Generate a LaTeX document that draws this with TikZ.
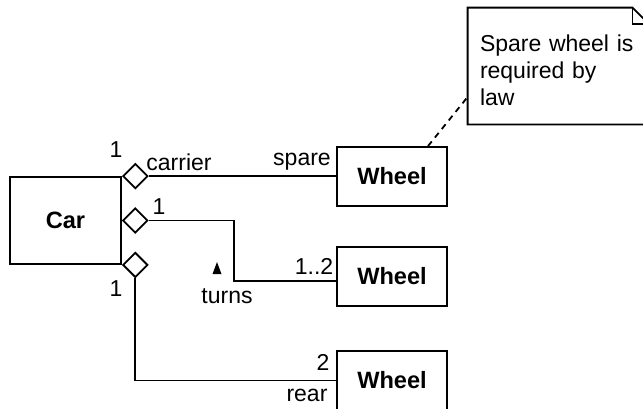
\documentclass[tikz,border=0pt]{standalone}
\usepackage{fontspec}
\setmainfont{Liberation Sans}
\usetikzlibrary{positioning,shapes.geometric,calc}

\tikzset{
  cls/.style={draw, line width=0.9pt, minimum width=55pt, minimum height=29.5pt, inner sep=0pt, font=\fontsize{11.8}{13.5}\selectfont\bfseries},
  agg/.style={draw, diamond, fill=white, line width=0.9pt, minimum width=12.5pt, minimum height=12.5pt, inner sep=0pt},
  lbl/.style={inner sep=0pt, font=\fontsize{11.5}{13.5}\selectfont},
  assoc/.style={line width=0.9pt}
}

\begin{document}
\begin{tikzpicture}[x=0.5pt, y=-0.5pt]
  \useasboundingbox (0,0) rectangle (643,408);

  % Classes
  \node[cls, minimum width=55.5pt, minimum height=43.5pt] (car) at (65.5,220.5) {Car};
  \node[cls] (w1) at (392,176.5) {Wheel};
  \node[cls] (w2) at (392,276.5) {Wheel};
  \node[cls] (w3) at (392,380.5) {Wheel};

  % Aggregation diamonds
  \node[agg, anchor=west] (d1) at (car.north east) {};
  \node[agg, anchor=west] (d2) at (car.east) {};
  \node[agg, anchor=west] (d3) at (car.south east) {};

  % Associations
  \draw[assoc] (d1.east) -- (d1.east -| w1.west);
  \coordinate (bend) at (234,281);
  \draw[assoc] (d2.east) -| (bend) -- (bend -| w2.west);
  \draw[assoc] (d3.south) |- (w3.west);

  % Role names and multiplicities
  \node[lbl] (m1) at (116,150) {1};
  \node[lbl] (carrier) at (179,162) {carrier};
  \node[lbl] (spare) at (302,162) {spare};
  \node[lbl] (m2) at (159,207) {1};
  \node[lbl] (m12) at (314,266) {1..2};
  \node[lbl] (turns) at (227,296) {turns};
  \coordinate (dir) at (217,268);
  \fill ([shift={(-4.5,6)}]dir) -- ([shift={(4.5,6)}]dir) -- ([shift={(0,-6)}]dir) -- cycle;
  \node[lbl] (m3) at (116,289) {1};
  \node[lbl] (m4) at (323,362) {2};
  \node[lbl] (rear) at (307,395) {rear};

  % Note
  \node[lbl, minimum width=90pt, minimum height=58pt, inner xsep=6pt, text width=78pt, align=left] (note) at (558,66)
    {\rule{0pt}{12.3pt}Spare wheel is\\required by\\law};
  \draw[line width=0.9pt] (note.north west) -- ([xshift=-8pt]note.north east) -- ([yshift=-8pt]note.north east)
    -- (note.south east) -- (note.south west) -- cycle;
  \draw[line width=0.9pt] ([xshift=-8pt]note.north east) |- ([yshift=-8pt]note.north east);
  \draw[line width=0.9pt, dash pattern=on 3pt off 2.5pt] ([xshift=18pt]w1.north) -- ([yshift=-15.5pt]note.west);
\end{tikzpicture}
\end{document}
